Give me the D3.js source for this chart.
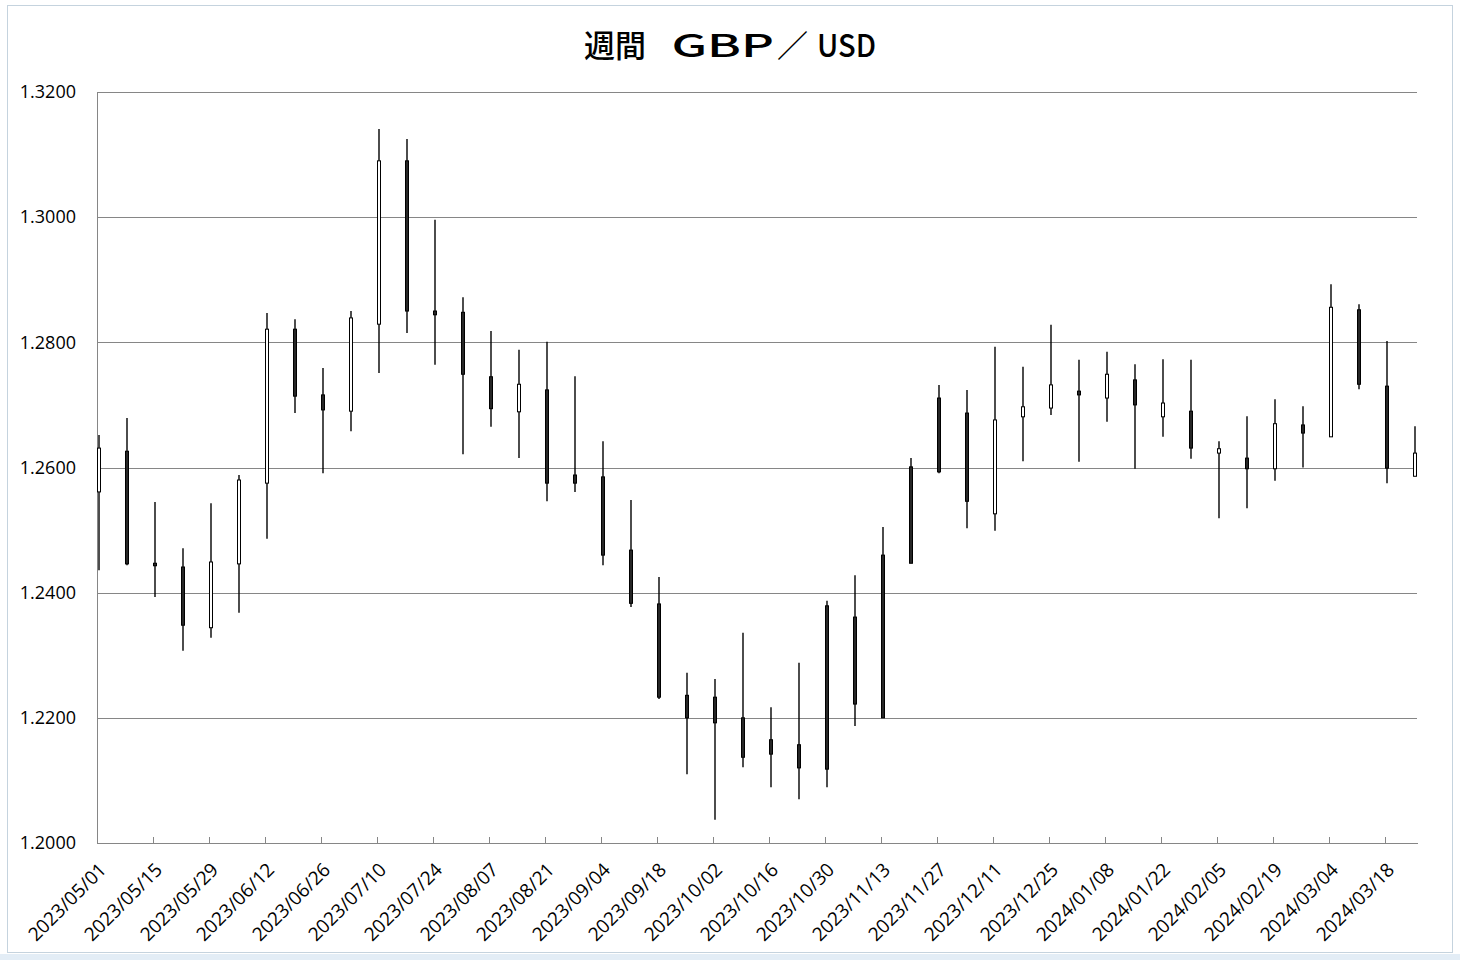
<!DOCTYPE html>
<html><head><meta charset="utf-8">
<script src="https://cdn.jsdelivr.net/npm/d3@7"></script>
<style>html,body{margin:0;padding:0;background:#fff;}svg{display:block;}</style>
</head><body>
<script>
const weeks = ["2023-05-01","2023-05-08","2023-05-15","2023-05-22","2023-05-29","2023-06-05","2023-06-12","2023-06-19","2023-06-26","2023-07-03","2023-07-10","2023-07-17","2023-07-24","2023-07-31","2023-08-07","2023-08-14","2023-08-21","2023-08-28","2023-09-04","2023-09-11","2023-09-18","2023-09-25","2023-10-02","2023-10-09","2023-10-16","2023-10-23","2023-10-30","2023-11-06","2023-11-13","2023-11-20","2023-11-27","2023-12-04","2023-12-11","2023-12-18","2023-12-25","2024-01-01","2024-01-08","2024-01-15","2024-01-22","2024-01-29","2024-02-05","2024-02-12","2024-02-19","2024-02-26","2024-03-04","2024-03-11","2024-03-18","2024-03-25"];
const open  = [1.2561,1.2626,1.2447,1.2441,1.2344,1.2446,1.2575,1.2821,1.2716,1.2690,1.2829,1.3090,1.2850,1.2848,1.2745,1.2689,1.2724,1.2588,1.2585,1.2468,1.2382,1.2236,1.2233,1.2200,1.2165,1.2157,1.2379,1.2361,1.2460,1.2601,1.2711,1.2687,1.2526,1.2681,1.2695,1.2722,1.2711,1.2740,1.2681,1.2690,1.2623,1.2615,1.2598,1.2668,1.2649,1.2852,1.2730,1.2586];
const high  = [1.2652,1.2679,1.2545,1.2471,1.2543,1.2588,1.2847,1.2837,1.2759,1.2850,1.3141,1.3125,1.2996,1.2872,1.2818,1.2788,1.2801,1.2746,1.2642,1.2548,1.2425,1.2272,1.2262,1.2336,1.2217,1.2288,1.2387,1.2428,1.2505,1.2615,1.2732,1.2724,1.2793,1.2761,1.2828,1.2772,1.2785,1.2765,1.2773,1.2772,1.2642,1.2682,1.2709,1.2698,1.2893,1.2861,1.2802,1.2666];
const low   = [1.2436,1.2444,1.2393,1.2307,1.2328,1.2368,1.2486,1.2687,1.2591,1.2658,1.2751,1.2815,1.2764,1.2621,1.2665,1.2615,1.2546,1.2561,1.2444,1.2377,1.2230,1.2110,1.2037,1.2121,1.2089,1.2070,1.2089,1.2187,1.2200,1.2447,1.2591,1.2503,1.2499,1.2610,1.2684,1.2609,1.2673,1.2598,1.2649,1.2614,1.2519,1.2535,1.2579,1.2600,1.2649,1.2725,1.2575,1.2586];
const close = [1.2631,1.2446,1.2443,1.2348,1.2449,1.2580,1.2821,1.2714,1.2692,1.2839,1.3090,1.2850,1.2844,1.2749,1.2694,1.2733,1.2575,1.2575,1.2460,1.2383,1.2233,1.2200,1.2192,1.2137,1.2142,1.2120,1.2118,1.2222,1.2200,1.2447,1.2593,1.2546,1.2676,1.2697,1.2732,1.2716,1.2749,1.2700,1.2703,1.2631,1.2630,1.2598,1.2670,1.2655,1.2856,1.2733,1.2599,1.2623];
const yTicks = [1.20,1.22,1.24,1.26,1.28,1.30,1.32];
const xTickLabels = ["2023/05/01","2023/05/15","2023/05/29","2023/06/12","2023/06/26","2023/07/10","2023/07/24","2023/08/07","2023/08/21","2023/09/04","2023/09/18","2023/10/02","2023/10/16","2023/10/30","2023/11/13","2023/11/27","2023/12/11","2023/12/25","2024/01/08","2024/01/22","2024/02/05","2024/02/19","2024/03/04","2024/03/18"];
const titleParts = ["週間", " GBP", "／", "USD"];

(function () {
const W = 1460, H = 960;
const svg = d3.select("body").append("svg").attr("width", W).attr("height", H);
svg.append("rect").attr("width", W).attr("height", H).attr("fill", "#fff");
// outer frame
svg.append("rect").attr("x", 7.5).attr("y", 5.5).attr("width", 1445).attr("height", 947)
  .attr("fill", "none").attr("stroke", "#c5d3de").attr("stroke-width", 1);
svg.append("rect").attr("x", 0).attr("y", 954).attr("width", W).attr("height", 6).attr("fill", "#e3edf6");

const parse = d3.utcParse("%Y-%m-%d");
const dates = weeks.map(parse);
const data = dates.map((d, i) => ({d, o: open[i], h: high[i], l: low[i], c: close[i]}));

const pL = 97, pR = 1417, pT = 92, pB = 843;
const x = d3.scaleUtc()
  .domain([dates[0], d3.utcDay.offset(dates[dates.length - 1], 1)])
  .range([pL, pR]);
const y = d3.scaleLinear().domain([1.20, 1.32]).range([pB, pT]);

const labelFont = "'Open Sans', sans-serif";

// gridlines + y labels
const yAxis = d3.axisLeft(y).tickValues(yTicks).tickSize(-(pR - pL)).tickFormat(d3.format(".4f")).tickPadding(21);
const gy = svg.append("g").attr("transform", `translate(${pL},0)`).call(yAxis);
gy.select(".domain").attr("stroke", "#868686");
gy.selectAll(".tick line").attr("stroke", "#868686").attr("shape-rendering", "crispEdges");
gy.selectAll(".tick text").attr("font-family", labelFont).attr("font-size", 18).attr("fill", "#000");

// x axis
const tp = d3.utcParse("%Y/%m/%d");
const tickDates = xTickLabels.map(s => tp(s));
const xAxis = d3.axisBottom(x).tickValues(tickDates).tickSize(-6).tickFormat((d, i) => xTickLabels[i]).tickSizeOuter(0);
const gx = svg.append("g").attr("transform", `translate(0,${pB})`).call(xAxis);
gx.select(".domain").attr("stroke", "#868686").attr("shape-rendering", "crispEdges");
gx.selectAll(".tick line").attr("stroke", "#868686").attr("shape-rendering", "crispEdges");
gx.selectAll(".tick text")
  .attr("font-family", labelFont).attr("font-size", 19).attr("fill", "#000")
  .attr("text-anchor", "end").attr("y", 0).attr("dy", 0)
  .attr("transform", "translate(10,28) rotate(-45)");

// candles
const bw = 3;
const g = svg.append("g");
g.selectAll("line.wick").data(data).join("line").attr("class", "wick")
  .attr("x1", d => x(d.d) + 2).attr("x2", d => x(d.d) + 2)
  .attr("y1", d => y(d.h)).attr("y2", d => y(d.l))
  .attr("stroke", "#000").attr("stroke-width", 1.4);
g.selectAll("rect.body").data(data).join("rect").attr("class", "body")
  .attr("x", d => x(d.d) + 2 - bw / 2)
  .attr("y", d => y(Math.max(d.o, d.c)))
  .attr("width", bw)
  .attr("height", d => Math.max(1, Math.abs(y(d.o) - y(d.c))))
  .attr("fill", d => d.c >= d.o ? "#fff" : "#262626")
  .attr("stroke", "#000").attr("stroke-width", 1);

// title
const t = svg.append("text").attr("y", 57)
  .attr("font-family", "'Noto Sans CJK JP', sans-serif").attr("font-weight", 500).attr("fill", "#000");
const tpos = [{x: 584, len: null}, {x: 660, len: 114}, {x: 777, len: null}, {x: 817, len: 59}];
titleParts.forEach((s, i) => {
  const ts = t.append("tspan").attr("x", tpos[i].x).attr("font-size", 31).text(s);
  if (tpos[i].len) ts.attr("textLength", tpos[i].len).attr("lengthAdjust", "spacingAndGlyphs");
});
})();
</script>
</body></html>
